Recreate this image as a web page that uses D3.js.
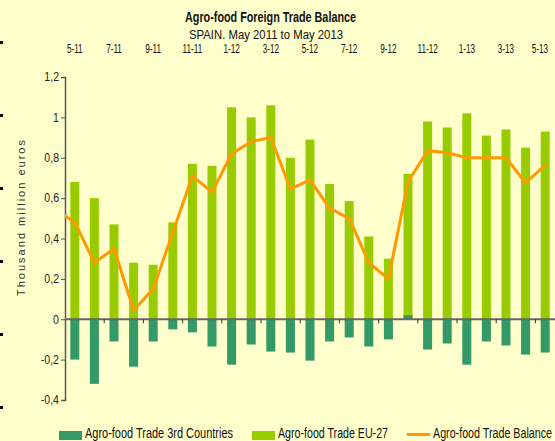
<!DOCTYPE html>
<html>
<head>
<meta charset="utf-8">
<script src="https://cdn.jsdelivr.net/npm/d3@7"></script>
<style>
 body { margin: 0; background: #ffffcc; }
 svg { display: block; font-family: "Liberation Sans", Arial, sans-serif; }
</style>
</head>
<body>
<div id="chart"></div>
<script>
// months, May 2011 .. May 2013
var months = ["5-11","6-11","7-11","8-11","9-11","10-11","11-11","12-11","1-12","2-12","3-12","4-12",
 "5-12","6-12","7-12","8-12","9-12","10-12","11-12","12-12","1-13","2-13","3-13","4-13","5-13"];
// thousand million euros
var eu27 = [0.68,0.60,0.47,0.28,0.27,0.48,0.77,0.76,1.05,1.00,1.06,0.80,
 0.89,0.67,0.585,0.41,0.30,0.72,0.98,0.95,1.02,0.91,0.94,0.85,0.93];
var thirdCountries = [-0.20,-0.32,-0.11,-0.235,-0.11,-0.05,-0.065,-0.135,-0.225,-0.125,-0.16,-0.165,
 -0.205,-0.11,-0.09,-0.135,-0.10,0.02,-0.15,-0.12,-0.225,-0.11,-0.13,-0.175,-0.165];
var balance = [0.48,0.28,0.35,0.045,0.15,0.43,0.71,0.63,0.82,0.88,0.90,0.645,
 0.69,0.55,0.50,0.28,0.20,0.68,0.835,0.825,0.80,0.80,0.80,0.675,0.765];
// April 2011, only the start of the line shows
var balancePrev = 0.545;
var yTicks = [-0.4,-0.2,0,0.2,0.4,0.6,0.8,1,1.2];

var svgWidth = 555, svgHeight = 441;
var margin = {top: 77, left: 65};
var width = 490, height = 323;

// the original uses a narrow font, squeeze the text to fit
function squeeze(sel, f) {
  sel.each(function() {
    var w = this.getComputedTextLength();
    d3.select(this).attr("textLength", w * f).attr("lengthAdjust", "spacingAndGlyphs");
  });
}
function fitTo(sel, w) {
  sel.attr("textLength", w).attr("lengthAdjust", "spacingAndGlyphs");
}

var svg = d3.select("#chart").append("svg")
  .attr("width", svgWidth)
  .attr("height", svgHeight);

svg.append("rect").attr("width", svgWidth).attr("height", svgHeight).attr("fill", "#ffffcc");

// little black marks on the left border
for (var i = 0; i < 6; i++) {
  svg.append("rect").attr("x", 0).attr("y", 41 + i * 73).attr("width", 3).attr("height", 3).attr("fill", "#000");
}

// titles
fitTo(svg.append("text").attr("x", 185).attr("y", 22)
  .style("font-size", "14px").style("font-weight", "bold").attr("fill", "#111")
  .text("Agro-food Foreign Trade Balance"), 171);
fitTo(svg.append("text").attr("x", 189).attr("y", 39)
  .style("font-size", "13px").attr("fill", "#111").text("SPAIN. May 2011 to May 2013"), 154);

var g = svg.append("g").attr("transform", "translate(" + margin.left + "," + margin.top + ")");

var x = d3.scaleBand().domain(months).range([0, width]).paddingInner(0.54).paddingOuter(0.27);
var step = x.step();
var cx = function(i) { return x(months[i]) + x.bandwidth() / 2; };
var y = d3.scaleLinear().domain([-0.4, 1.2]).range([height, 0]);

g.append("clipPath").attr("id", "plot").append("rect").attr("width", width).attr("height", height);

// month labels on top (last one kept inside the page)
squeeze(g.selectAll(".mlab").data(months.filter(function(d, i) { return i % 2 == 0; }))
  .enter().append("text")
  .attr("x", function(d) { return Math.min(x(d) + x.bandwidth() / 2, width - 15); })
  .attr("y", -24)
  .attr("text-anchor", "middle")
  .style("font-size", "12px")
  .attr("fill", "#111")
  .text(function(d) { return d; }), 0.68);

// bars
g.selectAll(".eu").data(eu27).enter().append("rect")
  .attr("x", function(d, i) { return x(months[i]); })
  .attr("width", x.bandwidth())
  .attr("y", function(d) { return y(d); })
  .attr("height", function(d) { return y(0) - y(d); })
  .attr("fill", "#99cc00");

g.selectAll(".third").data(thirdCountries).enter().append("rect")
  .attr("x", function(d, i) { return x(months[i]); })
  .attr("width", x.bandwidth())
  .attr("y", function(d) { return y(Math.max(0, d)); })
  .attr("height", function(d) { return Math.abs(y(0) - y(d)); })
  .attr("fill", "#339966");

// y axis
var yAxis = g.append("g")
  .call(d3.axisLeft(y).tickValues(yTicks).tickSize(4).tickPadding(2)
    .tickFormat(function(d) { return String(+d.toFixed(1)).replace(".", ","); }));
yAxis.select(".domain").attr("stroke", "#555").attr("stroke-width", 1.5);
yAxis.selectAll(".tick line").attr("stroke", "#555");
yAxis.selectAll("text").style("font-size", "12px").attr("fill", "#222")
  .style("font-family", "Liberation Sans, Arial, sans-serif");
squeeze(yAxis.selectAll("text"), 0.88);

// zero line and its ticks
g.append("line").attr("x1", 0).attr("x2", width).attr("y1", y(0)).attr("y2", y(0))
  .attr("stroke", "#666").attr("stroke-width", 2);
g.selectAll(".xtick").data(d3.range(2, months.length, 2)).enter().append("line")
  .attr("x1", function(k) { return k * step; })
  .attr("x2", function(k) { return k * step; })
  .attr("y1", y(0)).attr("y2", y(0) + 4)
  .attr("stroke", "#333").attr("stroke-width", 1);

// balance line
var pts = [[cx(0) - step, balancePrev]].concat(balance.map(function(d, i) { return [cx(i), d]; }));
g.append("path").datum(pts)
  .attr("clip-path", "url(#plot)")
  .attr("fill", "none")
  .attr("stroke", "#ff9900")
  .attr("stroke-width", 3)
  .attr("d", d3.line().x(function(d) { return d[0]; }).y(function(d) { return y(d[1]); }));

// y label, spaced out letters
svg.append("text")
  .attr("transform", "translate(25,296) rotate(-90)")
  .style("font-size", "11px")
  .attr("fill", "#333")
  .attr("textLength", 156)
  .attr("lengthAdjust", "spacing")
  .text("Thousand million euros");

// legend
var legend = [
  {label: "Agro-food Trade 3rd Countries", color: "#339966", type: "rect", x: 59, w: 148},
  {label: "Agro-food Trade EU-27", color: "#99cc00", type: "rect", x: 252, w: 110},
  {label: "Agro-food Trade Balance", color: "#ff9900", type: "line", x: 407, w: 119}
];
legend.forEach(function(l) {
  if (l.type == "rect") {
    svg.append("rect").attr("x", l.x).attr("y", 431).attr("width", 23).attr("height", 9).attr("fill", l.color);
  } else {
    svg.append("line").attr("x1", l.x).attr("x2", l.x + 23).attr("y1", 434.5).attr("y2", 434.5)
      .attr("stroke", l.color).attr("stroke-width", 3);
  }
  fitTo(svg.append("text").attr("x", l.x + 26).attr("y", 438).style("font-size", "14px")
    .attr("fill", "#111").text(l.label), l.w);
});
</script>
</body>
</html>
